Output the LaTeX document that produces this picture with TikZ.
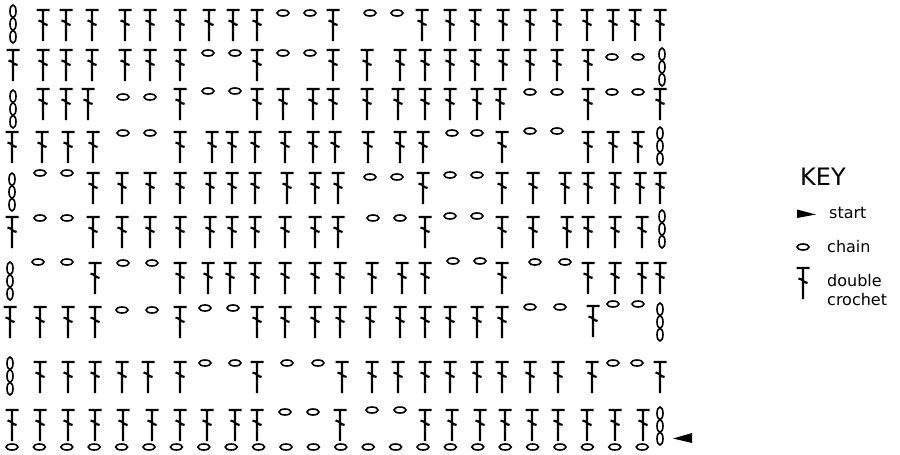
\documentclass[tikz,border=0pt]{standalone}
\usepackage{fontspec}
\setmainfont{DejaVu Sans}
\def\dc(#1,#2){\draw[dcst] (#1-6.5,#2) -- (#1+6.5,#2) (#1,#2) -- (#1,#2+31) (#1-4.5,#2+10.5) -- (#1-1.5,#2+11.5) -- (#1+1.5,#2+14) -- (#1+4.5,#2+15);}
\def\ch(#1,#2){\draw[chst] (#1,#2) ellipse [x radius=6pt, y radius=3pt];}
\def\tch(#1,#2){\foreach \k in {0,1,2} {\draw[chst] (#1,#2+6.3+12.7*\k) ellipse [x radius=3pt, y radius=6.3pt];}}

\begin{document}
\begin{tikzpicture}[x=1pt,y=-1pt,
    dcst/.style={line width=2.2pt},
    chst/.style={line width=1.6pt},
    keytxt/.style={anchor=west,inner sep=0pt,font=\fontsize{16}{19}\selectfont}]
			\useasboundingbox (0,0) rectangle (900,455);
			%%%%% ROW 1 %%%%%
			\tch(13,5)
			\foreach \x in {43,66,92,125,150,180,209,233,257,333,422,450,475,503,530,557,587,613,635,660} {\dc(\x,10)}
			\foreach \x/\y in {283/13,310/13,370/13,397/13} {\ch(\x,\y)}
			
			%%%%% ROW 2 %%%%%
			\foreach \x in {13,43,66,92,125,150,180,257,333,367,400,425,450,475,503,530,557,588} {\dc(\x,50)}
			\foreach \x/\y in {208/53,235/53,283/53,310/53,612/57,638/57} {\ch(\x,\y)}
			\tch(662,48)
			
			%%%%% ROW 3 %%%%%
			\tch(13,90)
			\foreach \x in {43,66,88,180,257,283,313,333,367,398,425,450,477,500,588,660} {\dc(\x,89)}
			\foreach \x/\y in {123/97,150/97,208/91,235/91,530/92,557/92,612/92,638/92} {\ch(\x,\y)}
			
			%%%%% ROW 4 %%%%%
			\foreach \x in {12,42,68,93,180,212,232,255,285,313,335,368,400,423,502,588,613,638} {\dc(\x,132)}
			\foreach \x/\y in {123/133,150/133,452/133,477/133,530/131,557/131} {\ch(\x,\y)}
			\tch(660,127)
			
			%%%%% ROW 5 %%%%%
			\tch(12,173)
			\foreach \x in {93,122,150,180,210,232,255,287,315,338,423,502,533,565,588,615,640,660} {\dc(\x,173)}
			\foreach \x/\y in {40/173,67/173,370/177,397/177,450/175,477/175} {\ch(\x,\y)}
			
			%%%%% ROW 6 %%%%%
			\foreach \x in {12,93,122,150,180,210,232,255,285,315,338,425,502,533,567,588,615,642} {\dc(\x,217)}
			\foreach \x/\y in {40/218,67/218,373/218,400/218,450/216,477/216} {\ch(\x,\y)}
			\tch(662,210)
			
			%%%%% ROW 7 %%%%%
			\tch(10,262)
			\foreach \x in {95,180,208,230,255,285,315,340,372,402,425,502,588,615,642,660} {\dc(\x,263)}
			\foreach \x/\y in {38/262,67/262,123/263,152/263,453/261,480/261,535/262,565/262} {\ch(\x,\y)}
			
			%%%%% ROW 8 %%%%%
			\foreach \x in {10,40,68,95,180,257,285,315,340,370,400,425,450,477,502} {\dc(\x,307)}
			\dc(593,306)
			\foreach \x/\y in {122/310,152/310,205/308,233/308,530/307,560/307,613/304,638/304} {\ch(\x,\y)}
			\tch(660,303)
			
			%%%%% ROW 9 %%%%%
			\tch(10,357)
			\foreach \x in {40,68,95,122,148,180,257,342,372,398,425,450,477,502,530,558,592,660} {\dc(\x,362)}
			\foreach \x/\y in {205/363,235/363,287/363,318/363,613/363,637/363} {\ch(\x,\y)}
			
			%%%%% ROW 10 %%%%%
			\foreach \x in {12,40,68,95,123,152,180,207,235,257,340,425,452,480,505,532,558,587,615,643} {\dc(\x,410)}
			\foreach \x/\y in {285/412,313/412,372/410,400/410} {\ch(\x,\y)}
			\tch(660,407)
			
			%%%%% FOUNDATION %%%%%
			\foreach \i in {0,...,23} {\ch(12+27.4*\i,447)}
			\fill (692,433) -- (673,438.5) -- (692,443) -- cycle;
			
			%%%%% KEY %%%%%
			\node[keytxt,font=\fontsize{24}{28}\selectfont] (keyhead) at (800,177) {KEY};
			\fill (797,209.5) -- (816,214.5) -- (797,218) -- cycle;
			\node[keytxt] (startlbl) at (829,213) {start};
			\ch(803,247)
			\node[keytxt] (chainlbl) at (827,247) {chain};
			\dc(803,268)
			\node[keytxt,align=left] (dclbl) at (827,290.5) {double\\crochet};
\end{tikzpicture}
\end{document}
